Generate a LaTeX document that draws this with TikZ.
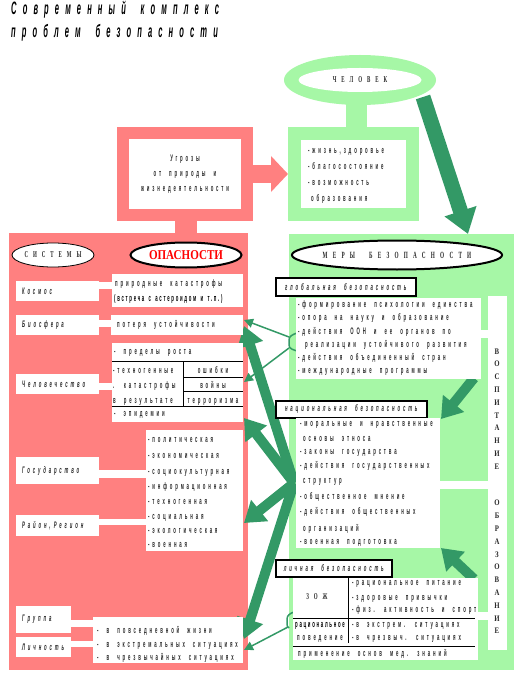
\documentclass[tikz,border=0pt]{standalone}
\usepackage{fontspec}
\setmainfont{Liberation Sans}
\usetikzlibrary{arrows.meta,shapes.geometric}
\newfontfamily\bodyf[FakeStretch=0.45,LetterSpace=30,WordSpace=2]{Liberation Sans}
\newfontfamily\capf[FakeStretch=0.55,LetterSpace=55,WordSpace=2]{Liberation Serif}
\newfontfamily\titlef[FakeStretch=0.42,LetterSpace=34,WordSpace=1.8]{Liberation Sans}
\newfontfamily\denf[FakeStretch=0.45,LetterSpace=18,WordSpace=1.5]{Liberation Sans}
\newfontfamily\opf[FakeStretch=0.82]{Liberation Serif}
\newfontfamily\colf[FakeStretch=0.8]{Liberation Serif}
\definecolor{pinkc}{HTML}{FF8080}
\definecolor{lgreen}{HTML}{A6F7A6}
\definecolor{dgreen}{HTML}{339966}
\definecolor{ink}{HTML}{2A2A2A}
\begin{document}
\begin{tikzpicture}[x=1pt,y=-1pt,
  txt/.style={font=\bodyf\bfseries\fontsize{9.5}{10}\selectfont, text=ink, inner sep=0pt, anchor=west, text height=7pt, text depth=2pt},
  dtxt/.style={txt, font=\denf\bfseries\fontsize{9.5}{10}\selectfont, text=black},
  ctxt/.style={txt, anchor=center, font=\capf\bfseries\fontsize{9}{10}\selectfont},
  lbl/.style={fill=white, anchor=north west, inner xsep=6pt, inner ysep=0pt, align=left, font=\bodyf\bfseries\itshape\fontsize{9.5}{10}\selectfont, text=ink},
  wbox/.style={fill=white, anchor=north west, inner sep=0pt},
  hdr/.style={fill=white, draw=black, line width=1.5pt, anchor=north west, inner xsep=2pt, inner ysep=0pt, align=left, font=\bodyf\bfseries\itshape\fontsize{9.5}{10}\selectfont, text=ink},
  titlestyle/.style={anchor=base west, inner sep=0pt, font=\titlef\bfseries\itshape\fontsize{18}{19}\selectfont, text=black},
  fat/.style={draw=dgreen, line width=10pt, -{Triangle[width=26pt,length=20pt]}},
  thin/.style={draw=dgreen, line width=1.5pt, -{Triangle[width=9pt,length=9pt]}},
  rule/.style={draw=black, line width=0.8pt},
  colt/.style={align=center, inner sep=0pt, font=\colf\bfseries\fontsize{8.5}{12.8}\selectfont, text=ink}
]
\path[use as bounding box] (0,0) rectangle (516,676);
\fill[white] (0,0) rectangle (516,676);

% title
\node[titlestyle] (title1) at (11,15) {Современный комплекс};
\node[titlestyle] (title2) at (11,38) {проблем безопасности};

% panels and stems
\fill[pinkc] (9,233) rectangle (248,670);
\fill[lgreen] (289,234) rectangle (514,670);
\fill[pinkc] (175,215) rectangle (197,236);
\fill[lgreen] (346,100) rectangle (367,130);

% person ring
\node[ellipse, fill=lgreen, minimum width=152pt, minimum height=50pt, inner sep=0pt] (ring) at (360,80) {};
\node[ellipse, fill=white, minimum width=123pt, minimum height=24pt, inner sep=0pt, font=\capf\bfseries\fontsize{9}{10}\selectfont, text=ink] (chel) at (360,80) {ЧЕЛОВЕК};

% threats box
\node[draw=pinkc, line width=12pt, fill=white, minimum width=124pt, minimum height=82pt, inner sep=0pt, align=center, font=\bodyf\bfseries\fontsize{9.5}{15}\selectfont, text=ink] (ugr) at (185,174) {Угрозы\\от природы и\\жизнедеятельности};

% values box
\node[draw=lgreen, line width=13pt, fill=white, minimum width=118pt, minimum height=81pt, inner sep=0pt] (blag) at (353.5,174) {};
\node[txt] (b1) at (308,151) {-жизнь,здоровье};
\node[txt] (b2) at (308,167) {-благосостояние};
\node[txt] (b3) at (308,183) {-возможность};
\node[txt] (b4) at (311,199) {образования};

\draw[pinkc, line width=18pt, -{Triangle[width=35pt,length=17pt]}] (ugr.east) -- (blag.west);

% human arrow
\coordinate (chs) at (423,97);
\coordinate (cht) at (468,234);
\draw[fat, line width=15pt, -{Triangle[width=32pt,length=24pt]}] (chs) -- (cht);

% white connector strips (left)
\fill[white] (99,282) rectangle (112,289);
\fill[white] (99,320) rectangle (111,327);
\fill[white] (99,383) rectangle (112,390);
\fill[white] (99,470) rectangle (146,478);
\fill[white] (99,519) rectangle (146,525);
\fill[white] (71,620) rectangle (93,627);
\fill[white] (71,641) rectangle (93,647);
% right strips
\fill[white] (481,330) rectangle (488,338);
\fill[white] (440,481) rectangle (488,489);
\fill[white] (478,612) rectangle (488,620);

% green arrows
\coordinate (F) at (294,483);
\coordinate (tBio) at (244,326);
\coordinate (tEpi) at (244,418);
\coordinate (tRai) at (244,523);
\coordinate (tLic) at (244,639);
\draw[fat] (F) -- (tBio);
\draw[fat] (F) -- (tEpi);
\draw[fat] (F) -- (tRai);
\draw[fat] (F) -- (tLic);

\coordinate (gb1) at (289,337);
\coordinate (gb2) at (289,348);
\coordinate (tBio2) at (244,320);
\coordinate (tChel) at (244,382);
\draw[thin] (gb1) -- (tBio2);
\draw[thin] (gb2) -- (tChel);
\draw[dgreen, line width=1.5pt] (297,333) to[out=200,in=90] (289,340) -- (289,345) to[out=-90,in=160] (297,351);

\coordinate (pb) at (288,627);
\coordinate (tLic2) at (244,650);
\draw[thin] (pb) -- (tLic2);
\draw[dgreen, line width=1.5pt] (294,612) to[out=200,in=90] (287,619) -- (287,624) to[out=-90,in=150] (289,628);

\coordinate (a4s) at (474,378);
\coordinate (a4t) at (441,419);
\coordinate (a5s) at (474,579);
\coordinate (a5t) at (441,548);
\draw[fat] (a4s) -- (a4t);
\draw[fat] (a5s) -- (a5t);

% left labels
\node[lbl, text width=71pt, minimum height=20pt] (kosmos) at (16,281) {Космос};
\node[lbl, text width=71pt, minimum height=20pt] (biosf) at (16,315) {Биосфера};
\node[lbl, text width=71pt, minimum height=20pt] (chelov) at (16,374) {Человечество};
\node[lbl, text width=71pt, minimum height=27pt] (gosud) at (16,457) {Государство};
\node[lbl, text width=71pt, minimum height=21pt] (raion) at (16,515) {Район, Регион};
\node[lbl, text width=43pt, minimum height=27pt] (gruppa) at (16,606) {Группа};
\node[lbl, text width=43pt, minimum height=20pt] (lichn) at (16,637) {Личность};

% left contents
\node[wbox, minimum width=131pt, minimum height=33pt] (c1) at (112,274) {};
\node[txt] (c1a) at (115,284) {природные катастрофы};
\node[dtxt] (c1b) at (114,299) {(встреча с астероидом и т.п.)};

\node[wbox, minimum width=132pt, minimum height=20pt] (c2) at (111,315) {};
\node[txt] (c2a) at (117,325) {потеря устойчивости};

\node[wbox, minimum width=131pt, minimum height=79pt] (c3) at (112,343) {};
\draw[rule] (112,361) -- (243,361);
\draw[rule] (183,361) -- (183,406);
\draw[rule] (183,377) -- (243,377);
\draw[rule] (183,391) -- (243,391);
\draw[rule] (112,406) -- (243,406);
\node[txt] (c3a) at (114,352) {- пределы роста};
\node[txt] (c3b) at (113,371) {-техногенные};
\node[txt] (c3c) at (113,386) {. катастрофы};
\node[txt] (c3d) at (113,401) {в результате};
\node[txt, anchor=center] (c3e) at (213,371) {ошибки};
\node[txt, anchor=center] (c3f) at (213,386) {войны};
\node[txt, anchor=center] (c3g) at (213,401) {терроризма};
\node[txt] (c3h) at (114,414) {- эпидемии};

\node[wbox, minimum width=97pt, minimum height=121pt] (c4) at (146,430) {};
\node[txt] (c4a) at (148,440) {-политическая};
\node[txt] (c4b) at (148,456) {-экономическая};
\node[txt] (c4c) at (148,472) {-социокультурная};
\node[txt] (c4d) at (148,487) {-информационная};
\node[txt] (c4e) at (148,502) {-техногенная};
\node[txt] (c4f) at (148,517) {-социальная};
\node[txt] (c4g) at (148,531) {-экологическая};
\node[txt] (c4h) at (148,545) {-военная};

\node[wbox, minimum width=150pt, minimum height=46pt] (c5) at (93,617) {};
\node[txt] (c5a) at (97,631) {- в повседневной жизни};
\node[txt] (c5b) at (97,645) {- в экстремальных ситуациях};
\node[txt] (c5c) at (97,658) {- в чрезвычайных ситуациях};

% header ellipses
\node[ellipse, draw=black, line width=0.8pt, fill=white, minimum width=82pt, minimum height=24pt, inner sep=0pt, font=\capf\bfseries\fontsize{9}{10}\selectfont, text=ink] (sist) at (53,255) {СИСТЕМЫ};
\node[ellipse, draw=black, line width=2pt, fill=white, minimum width=111pt, minimum height=25pt, inner sep=0pt, font=\opf\bfseries\fontsize{13.5}{13}\selectfont, text=red] (opas) at (186,255) {ОПАСНОСТИ};
\node[ellipse, draw=black, line width=2pt, fill=white, minimum width=208pt, minimum height=29pt, inner sep=0pt, font=\capf\bfseries\fontsize{9.5}{10}\selectfont, text=ink] (mery) at (397,255) {МЕРЫ\hspace{14pt}БЕЗОПАСНОСТИ};

% column
\node[wbox, minimum width=19pt, minimum height=354pt] (col) at (488,296) {};
\node[colt] (vosp) at (497,409) {В\\О\\С\\П\\И\\Т\\А\\Н\\И\\Е};
\node[colt] (obr) at (497,567) {О\\Б\\Р\\А\\З\\О\\В\\А\\Н\\И\\Е};

% global
\node[hdr, minimum width=140pt, minimum height=18pt] (globh) at (275,277) {глобальная безопасность};
\node[wbox, minimum width=185pt, minimum height=81pt] (glob) at (296,298) {};
\node[txt] (g1) at (298,305) {-формирование психологии единства};
\node[txt] (g2) at (298,318) {-опора на науку и образование};
\node[txt] (g3) at (298,332) {-действия ООН и ее органов по};
\node[txt] (g4) at (305,345) {реализации устойчивого развития};
\node[txt] (g5) at (298,358) {-действия объединенный стран};
\node[txt] (g6) at (298,371) {-международные программы};

% national
\node[hdr, minimum width=151pt, minimum height=17pt] (nath) at (275,400) {национальная безопасность};
\node[wbox, minimum width=144pt, minimum height=130pt] (nat) at (296,418) {};
\node[txt] (n1) at (300,424) {-моральные и нравственные};
\node[txt] (n2) at (303,439) {основы этноса};
\node[txt] (n3) at (300,452) {-законы государства};
\node[txt] (n4) at (300,466) {-действия государственных};
\node[txt] (n5) at (303,481) {структур};
\node[txt] (n6) at (300,497) {-общественное мнение};
\node[txt] (n7) at (300,512) {-действия общественных};
\node[txt] (n8) at (303,529) {организаций};
\node[txt] (n9) at (300,542) {-военная подготовка};

% personal
\node[hdr, minimum width=116pt, minimum height=17pt] (lichh) at (275,559) {личная безопасность};
\node[wbox, minimum width=185pt, minimum height=82pt] (lich) at (293,578) {};
\draw[rule] (348,578) -- (348,643);
\draw[rule] (293,618) -- (475,618);
\draw[rule] (293,646) -- (475,646);
\node[ctxt] (zoj) at (317,597) {ЗОЖ};
\node[dtxt, anchor=center] (rac) at (320,625) {рациональное};
\node[txt, anchor=center] (pov) at (320,638) {поведение};
\node[txt] (p1) at (352,583) {-рациональное питание};
\node[txt] (p2) at (352,598) {-здоровые привычки};
\node[txt] (p3) at (352,610) {-физ. активность и спорт};
\node[txt] (p4) at (352,625) {-в экстрем. ситуациях};
\node[txt] (p5) at (352,638) {-в чрезвыч. ситуациях};
\node[txt] (p6) at (298,654) {применение основ мед. знаний};
\end{tikzpicture}
\end{document}
